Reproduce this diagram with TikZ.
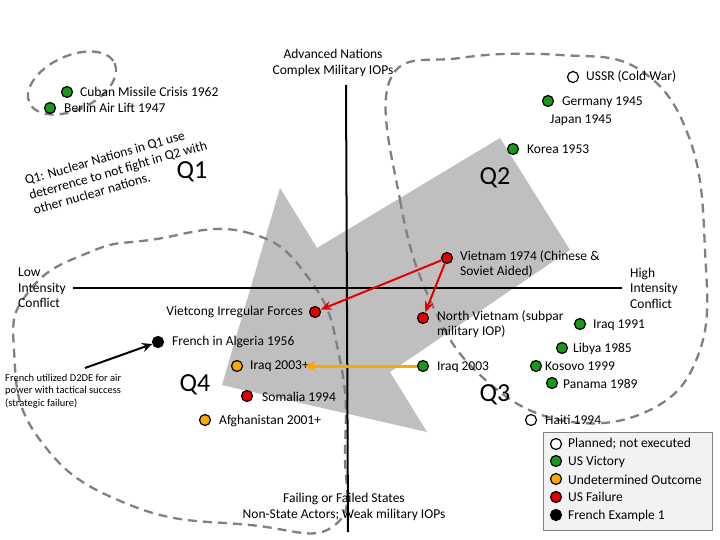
\documentclass[tikz,border=0pt]{standalone}
\usepackage{fontspec}
\setmainfont{Carlito}
\usetikzlibrary{arrows.meta}
\begin{document}
\begin{tikzpicture}[x=1pt,y=-1pt,
  lab/.style={font=\fontsize{13.5}{15.5}\selectfont,inner sep=0pt,align=left},
  dot/.style={circle,draw=black,line width=1.2pt,minimum size=11pt,inner sep=0pt},
  gd/.style={dot,fill=green!55!black!90},
  rd/.style={dot,fill=red!90!black},
  yd/.style={dot,fill=orange!70!yellow},
  wd/.style={dot,fill=white},
  bd/.style={dot,fill=black},
  dashloop/.style={draw=gray,line width=2.3pt,dash pattern=on 9pt off 6pt},
  ql/.style={font=\fontsize{26}{28}\selectfont,inner sep=0pt}]
\useasboundingbox (0,0) rectangle (720,540);
% grey block arrow
\fill[gray!50] (500,138) -- (570,250) -- (390,372) -- (427,432) -- (222,385) -- (280,188) -- (317,248) -- cycle;
% dashed loops
\draw[dashloop,rotate around={25:(72,83)}] (72,83) ellipse (47 and 27);
\draw[dashloop] plot[smooth cycle,tension=0.8] coordinates {(150,240) (245,232) (310,280) (340,360) (345,450) (335,525) (250,525) (130,505) (40,440) (14,350) (30,290) (90,252)};
\draw[dashloop] plot[smooth cycle,tension=0.7] coordinates {(390,80) (400,200) (430,300) (480,375) (560,420) (650,410) (700,350) (705,250) (690,140) (640,70) (560,55) (460,58)};
% axes
\draw[line width=2pt] (346,85) -- (348,532);
\draw[line width=2pt] (73,288) -- (622,288);
% labels
\node[lab,align=center] (adv) at (333,63) {Advanced Nations\\Complex Military IOPs};
\node[lab,align=center] (fail) at (344,507) {Failing or Failed States\\Non-State Actors; Weak military IOPs};
\node[lab,anchor=west] (low) at (18,288) {Low\\Intensity\\Conflict};
\node[lab,anchor=west] (high) at (630,288) {High\\Intensity\\Conflict};
\node[ql] (q1) at (192,172) {Q1};
\node[ql] (q2) at (495,178) {Q2};
\node[ql] (q3) at (495,395) {Q3};
\node[ql] (q4) at (195,385) {Q4};
\node[lab,rotate=16,align=left] (q1t) at (118,170) {Q1: Nuclear Nations in Q1 use\\deterrence to not fight in Q2 with\\other nuclear nations.};
% events
\node[gd] (cub) at (67,92) {}; \node[lab,anchor=west] at (80,92) {Cuban Missile Crisis 1962};
\node[gd] (ber) at (50,108) {}; \node[lab,anchor=west] at (64,108) {Berlin Air Lift 1947};
\node[wd] (ussr) at (573,77) {}; \node[lab,anchor=west] at (586,77) {USSR (Cold War)};
\node[gd] (ger) at (548,101) {}; \node[lab,anchor=west] at (562,102) {Germany 1945};
\node[lab,anchor=west] (jap) at (550,120) {Japan 1945};
\node[gd] (kor) at (513,149) {}; \node[lab,anchor=west] at (527,149) {Korea 1953};
\node[rd] (v74) at (447,258) {}; \node[lab,anchor=north west] at (460,250) {Vietnam 1974 (Chinese \&\\Soviet Aided)};
\node[rd] (vc) at (315,312) {}; \node[lab,anchor=east] at (303,312) {Vietcong Irregular Forces};
\node[rd] (nv) at (423,318) {}; \node[lab,anchor=north west] at (437,310) {North Vietnam (subpar\\military IOP)};
\node[bd] (fr) at (158,342) {}; \node[lab,anchor=west] at (172,342) {French in Algeria 1956};
\node[lab,anchor=north west,font=\fontsize{10.5}{12.5}\selectfont] (note) at (5,374) {French utilized D2DE for air\\power with tactical success\\(strategic failure)};
\node[yd] (i03p) at (237,366) {}; \node[lab,anchor=west] at (250,366) {Iraq 2003+};
\node[gd] (i03) at (423,366) {}; \node[lab,anchor=west] at (437,367) {Iraq 2003};
\node[rd] (som) at (247,396) {}; \node[lab,anchor=west] at (262,397) {Somalia 1994};
\node[yd] (afg) at (205,420) {}; \node[lab,anchor=west] at (219,421) {Afghanistan 2001+};
\node[gd] (i91) at (580,324) {}; \node[lab,anchor=west] at (593,325) {Iraq 1991};
\node[gd] (lib) at (562,348) {}; \node[lab,anchor=west] at (573,349) {Libya 1985};
\node[gd] (kos) at (536,366) {}; \node[lab,anchor=west] at (545,366) {Kosovo 1999};
\node[gd] (pan) at (552,383) {}; \node[lab,anchor=west] at (563,384) {Panama 1989};
\node[wd] (hai) at (531,420) {}; \node[lab,anchor=west] at (545,420) {Haiti 1994};
% connectors
\coordinate (i03e) at (305,366);
\coordinate (notee) at (85,368);
\draw[red!90!black,line width=2pt,-{Stealth[length=11pt,width=9pt]}] (v74) -- (vc);
\draw[red!90!black,line width=2pt,-{Stealth[length=11pt,width=9pt]}] (v74) -- (nv);
\draw[orange!70!yellow,line width=3pt,-{Stealth[length=11pt,width=11pt]}] (i03) -- (i03e);
\draw[black,line width=2pt,-{Stealth[length=10pt,width=9pt]}] (notee) -- (fr);
% legend
\node[draw=gray,fill=gray!10,minimum width=169pt,minimum height=98pt,anchor=north west,inner sep=0pt] (leg) at (543,432) {};
\node[wd] (l1) at (556,444) {}; \node[lab,anchor=west] at (568,444) {Planned; not executed};
\node[gd] (l2) at (556,461) {}; \node[lab,anchor=west] at (568,462) {US Victory};
\node[yd] (l3) at (556,479) {}; \node[lab,anchor=west] at (568,480) {Undetermined Outcome};
\node[rd] (l4) at (556,497) {}; \node[lab,anchor=west] at (568,497) {US Failure};
\node[bd] (l5) at (556,515) {}; \node[lab,anchor=west] at (568,516) {French Example 1};
\end{tikzpicture}
\end{document}
